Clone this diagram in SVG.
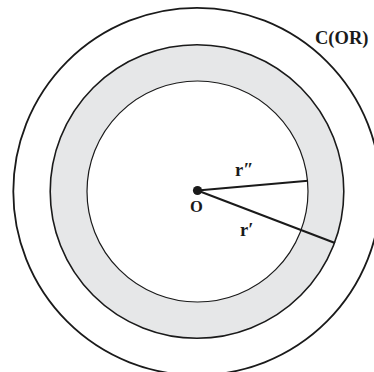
<svg xmlns="http://www.w3.org/2000/svg" width="374" height="372" viewBox="0 0 374 372">
<style>
.c{fill:none;stroke:#1a1a1a}
.t{font-family:"Liberation Serif","Times New Roman",serif;font-weight:bold;fill:#1a1a1a}
.l{stroke:#1a1a1a;stroke-width:2;stroke-linecap:butt}
</style>
<rect width="374" height="372" fill="#ffffff"/>
<g id="outer-circle">
<circle class="c" cx="197" cy="191.5" r="183.7" stroke-width="1.8"/>
<text class="t" x="315" y="44" font-size="18.5">C(OR)</text>
</g>
<g id="annulus">
<circle cx="197" cy="191.5" r="146.8" fill="#e6e7e8" stroke="#1a1a1a" stroke-width="1.6"/>
</g>
<g id="inner-circle">
<circle cx="197.5" cy="191.5" r="110.5" fill="#ffffff" stroke="#1a1a1a" stroke-width="1.2"/>
</g>
<g id="connectors">
<line class="l" x1="197.5" y1="190.5" x2="308" y2="180.7"/>
<line class="l" x1="197.5" y1="190.5" x2="335" y2="243"/>
<text class="t" x="235" y="175.5" font-size="18.5">r″</text>
<text class="t" x="240" y="235.5" font-size="18.5">r′</text>
</g>
<g id="center-O">
<circle cx="197.5" cy="190.5" r="4.6" fill="#1a1a1a"/>
<text class="t" x="190" y="212" font-size="16.5">O</text>
</g>
</svg>
